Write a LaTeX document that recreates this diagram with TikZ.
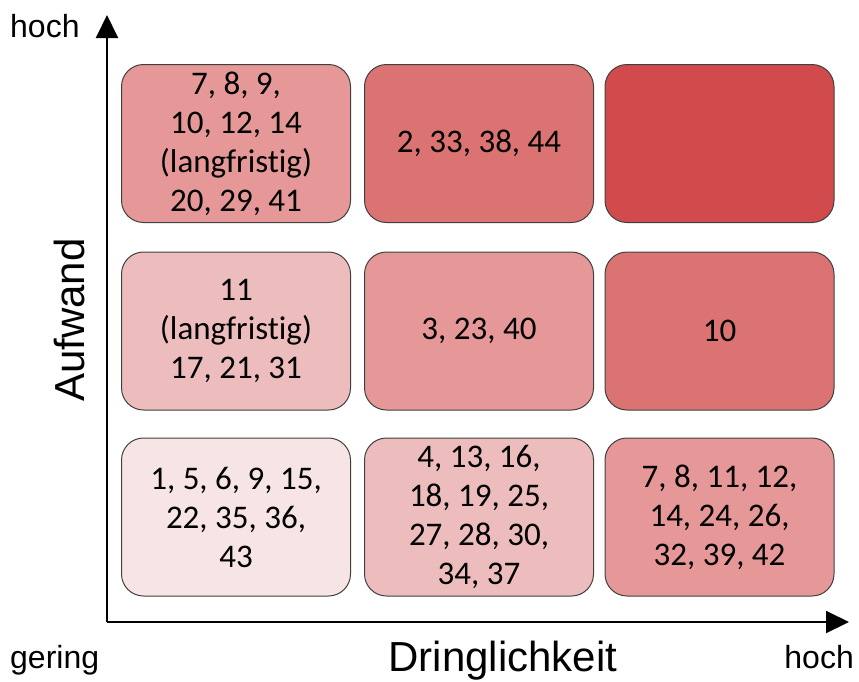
\documentclass[tikz,border=0pt]{standalone}
\usepackage{fontspec}
\setmainfont{Carlito}[Ligatures={NoCommon}]
\newfontfamily\axisfont{Liberation Sans}
\usetikzlibrary{arrows.meta}
\definecolor{cA}{HTML}{D14B4C}
\definecolor{cB}{HTML}{DB7372}
\definecolor{cC}{HTML}{E59897}
\definecolor{cD}{HTML}{EDBDBD}
\definecolor{cE}{HTML}{F7E4E4}
\definecolor{bordergray}{HTML}{404040}
\begin{document}
\begin{tikzpicture}[x=1pt,y=-1pt]
\useasboundingbox (0,0) rectangle (859,681);
\tikzset{
  cell/.style={draw=bordergray, line width=1pt, rounded corners=22pt,
    minimum width=229pt, minimum height=158pt, inner sep=0pt, align=center,
    font=\fontsize{33}{39}\selectfont},
  axisline/.style={line width=2pt, -{Triangle[length=23pt,width=22pt]}},
  smalllabel/.style={inner sep=0pt, font=\axisfont\fontsize{32}{36}\selectfont},
  biglabel/.style={inner sep=0pt, font=\axisfont\fontsize{42}{46}\selectfont}
}
% cells
\node[cell, fill=cC] (c11) at (236,143.5) {7, 8, 9,\\10, 12, 14\\(langfristig)\\20, 29, 41};
\node[cell, fill=cB] (c12) at (479,143.5) {2, 33, 38, 44};
\node[cell, fill=cA] (c13) at (719.5,143.5) {};
\node[cell, fill=cD] (c21) at (236,331) {11\\(langfristig)\\17, 21, 31};
\node[cell, fill=cC] (c22) at (479,331) {3, 23, 40};
\node[cell, fill=cB] (c23) at (719.5,331) {10};
\node[cell, fill=cE] (c31) at (236,517) {1, 5, 6, 9, 15,\\22, 35, 36,\\43};
\node[cell, fill=cD] (c32) at (479,517) {4, 13, 16,\\18, 19, 25,\\27, 28, 30,\\34, 37};
\node[cell, fill=cC] (c33) at (719.5,517) {7, 8, 11, 12,\\14, 24, 26,\\32, 39, 42};
% axes
\coordinate (o) at (107,622);
\coordinate (ytip) at (107,15);
\coordinate (xtip) at (849,622);
\draw[axisline] (o) -- (ytip);
\draw[axisline] (o) -- (xtip);
% labels
\node[smalllabel, anchor=base west] (hochy) at (10,37) {hoch};
\node[smalllabel, anchor=base west] (gering) at (10,668) {gering};
\node[smalllabel, anchor=base east] (hochx) at (854,668) {hoch};
\node[biglabel, anchor=base] (dring) at (503,671) {Dringlichkeit};
\node[biglabel, rotate=90, anchor=base] (aufw) at (84,320) {Aufwand};
\end{tikzpicture}
\end{document}
